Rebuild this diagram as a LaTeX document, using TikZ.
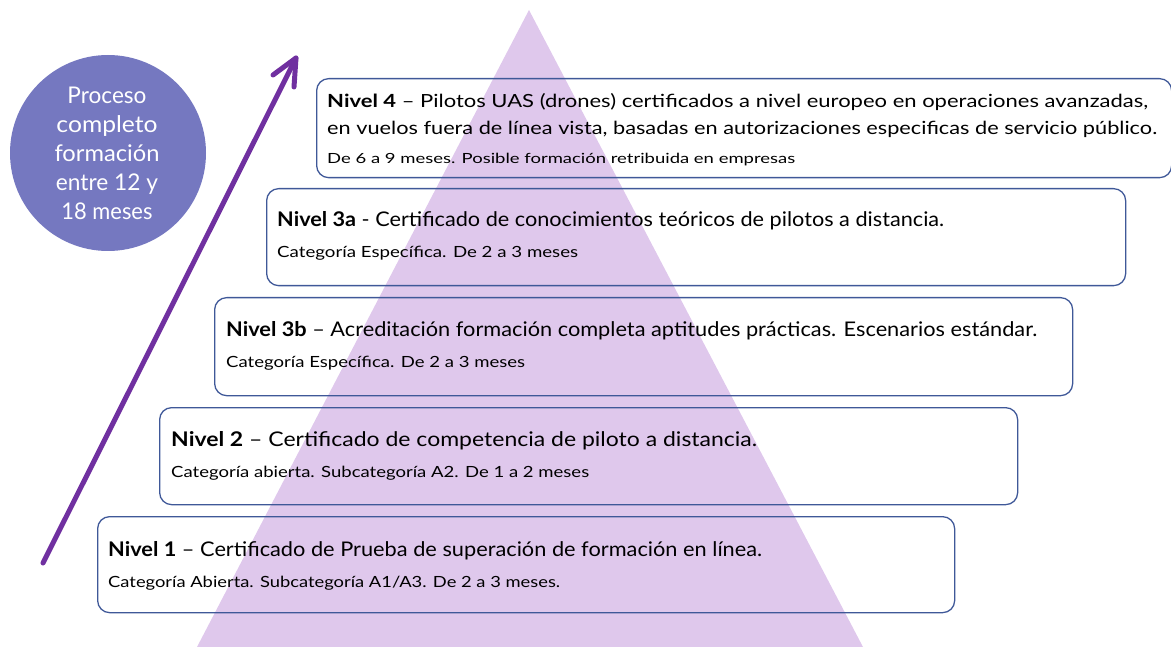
\documentclass[tikz,border=0pt]{standalone}
\usepackage{fontspec}
\setmainfont{Lato}
\usetikzlibrary{calc}
\definecolor{tri}{RGB}{223,200,236}
\definecolor{circ}{RGB}{117,120,192}
\definecolor{arr}{RGB}{112,48,160}
\definecolor{bx}{RGB}{63,88,152}
\newcommand\fitw[2]{\resizebox{#1pt}{\height}{#2}}
\newcommand\fmain{\fontsize{20.2}{24}\selectfont}
\newcommand\fsub{\fontsize{15.4}{18}\selectfont}
\newcommand\ffour{\fontsize{18.1}{22}\selectfont}
\newcommand\ffoursub{\fontsize{14}{17}\selectfont}
\newcommand\fcirc{\fontsize{23}{27}\selectfont}
\begin{document}
\begin{tikzpicture}[x=1pt,y=-1pt,
  boxst/.style={draw=bx, line width=1.3pt, rounded corners=12pt, anchor=north west, inner sep=0pt},
  txt/.style={anchor=base west, inner sep=0pt, text=black},
  ctxt/.style={anchor=base, inner sep=0pt, text=white},
  arrowline/.style={draw=arr, line width=5pt, line cap=round, line join=round}]
\useasboundingbox (0,0) rectangle (1171,647);
\fill[tri] (529,10) -- (197,647) -- (863,647) -- cycle;

% circle
\node[circle, fill=circ, minimum size=196pt, inner sep=0pt] (c) at (108,153) {};
\node[ctxt] (c1) at (107,104) {\fitw{79}{\fcirc Proceso}};
\node[ctxt] (c2) at (107,133) {\fitw{101}{\fcirc completo}};
\node[ctxt] (c3) at (107,162) {\fitw{105}{\fcirc formación}};
\node[ctxt] (c4) at (107,191) {\fitw{102}{\fcirc entre 12 y}};
\node[ctxt] (c5) at (107,220) {\fitw{91}{\fcirc 18 meses}};

% arrow
\coordinate (as) at (43,563);
\coordinate (ae) at (296,58);
\draw[arrowline] (as) -- (ae);
\draw[arrowline] ($(ae)+(-23,17)$) -- (ae) -- ($(ae)+(-2,29)$);

% boxes
\node[boxst, minimum width=855pt, minimum height=99pt] (b4) at (316,78) {};
\node[boxst, minimum width=859pt, minimum height=97pt] (b3a) at (266,188) {};
\node[boxst, minimum width=858pt, minimum height=98pt] (b3b) at (214,297) {};
\node[boxst, minimum width=858pt, minimum height=97pt] (b2) at (159,407) {};
\node[boxst, minimum width=857pt, minimum height=96pt] (b1) at (97,516) {};

% texts
\node[txt] (t4a) at (327,108) {\fitw{821}{\ffour\textbf{Nivel 4} – Pilotos UAS (drones) certificados a nivel europeo en operaciones avanzadas,}};
\node[txt] (t4b) at (327,135) {\fitw{830}{\ffour en vuelos fuera de línea vista, basadas en autorizaciones especificas de servicio público.}};
\node[txt] (t4c) at (327,164) {\fitw{468}{\ffoursub De 6 a 9 meses. Posible formación retribuida en empresas}};

\node[txt] (t3aa) at (277,227) {\fitw{667}{\fmain\textbf{Nivel 3a} - Certificado de conocimientos teóricos de pilotos a distancia.}};
\node[txt] (t3ab) at (277,258) {\fitw{301}{\fsub Categoría Específica. De 2 a 3 meses}};

\node[txt] (t3ba) at (226,336) {\fitw{811}{\fmain\textbf{Nivel 3b} – Acreditación formación completa aptitudes prácticas. Escenarios estándar.}};
\node[txt] (t3bb) at (226,367) {\fitw{299}{\fsub Categoría Específica. De 2 a 3 meses}};

\node[txt] (t2a) at (171,446) {\fitw{586}{\fmain\textbf{Nivel 2} – Certificado de competencia de piloto a distancia.}};
\node[txt] (t2b) at (171,477) {\fitw{418}{\fsub Categoría abierta. Subcategoría A2. De 1 a 2 meses}};

\node[txt] (t1a) at (108,556) {\fitw{654}{\fmain\textbf{Nivel 1} – Certificado de Prueba de superación de formación en línea.}};
\node[txt] (t1b) at (108,587) {\fitw{452}{\fsub Categoría Abierta. Subcategoría A1/A3. De 2 a 3 meses.}};
\end{tikzpicture}
\end{document}
